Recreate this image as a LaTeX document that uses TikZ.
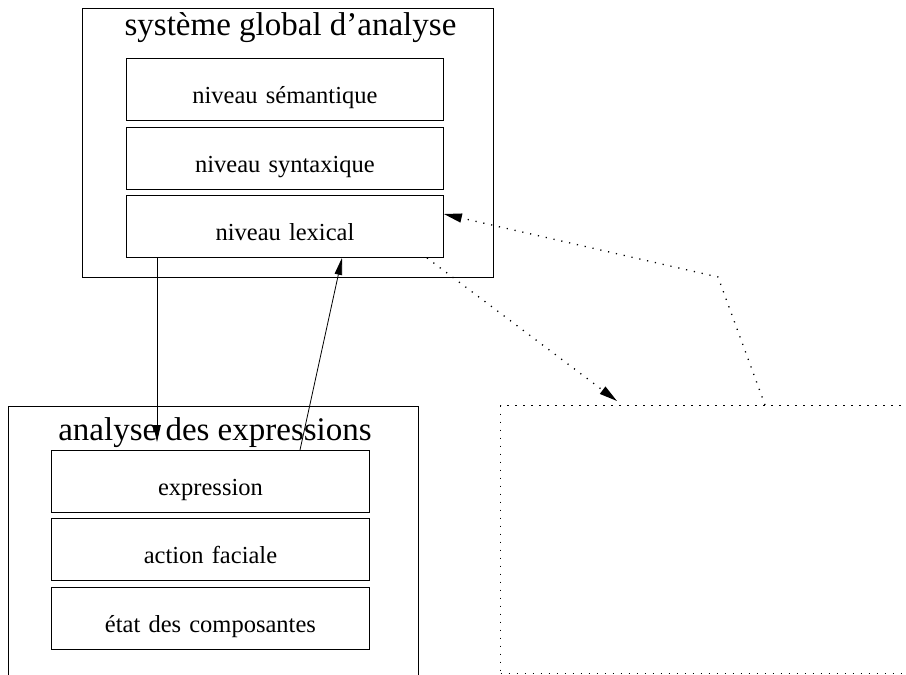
\documentclass[tikz,border=0pt]{standalone}
\usepackage{fontspec}
\setmainfont{Liberation Serif}
\usetikzlibrary{arrows.meta}
\tikzset{
  frame/.style={draw, line width=0.9pt, inner sep=0pt, anchor=north west},
  level/.style={draw, line width=0.9pt, inner sep=0pt, anchor=north west,
    text width=317pt, align=center, text height=45pt, text depth=17pt,
    font=\fontsize{24.5}{26}\selectfont},
  heading/.style={anchor=base, inner sep=0pt, font=\fontsize{33}{36}\selectfont},
  flow/.style={line width=0.8pt, -{Triangle[length=17pt,width=7.5pt]}},
  dotflow/.style={line width=1.3pt, dash pattern=on 1.2pt off 6.8pt,
    -{Triangle[length=18pt,width=9pt]}},
  dotframe/.style={draw, line width=1.3pt, dash pattern=on 1.2pt off 6.8pt,
    inner sep=0pt, anchor=north west}
}
\begin{document}
\begin{tikzpicture}[x=1pt, y=-1pt]
\useasboundingbox (0,0) rectangle (906,675);
\clip (0,0) rectangle (906,675);

% upper block: global analysis system
\node[frame, minimum width=411pt, minimum height=269pt] (sys) at (82,8) {};
\node[heading] (systitle) at (290.5,35) {système global d’analyse};
\node[level] (sem) at (126,58) {niveau sémantique};
\node[level] (syn) at (126,127) {niveau syntaxique};
\node[level] (lex) at (126,195) {niveau lexical};

% lower left block: expression analysis
\node[frame, minimum width=410pt, minimum height=300pt] (expr) at (8,406) {};
\node[heading] (exprtitle) at (215,440) {analyse des expressions};
\node[level, text width=318pt] (exp) at (51,450) {expression};
\node[level, text width=318pt] (act) at (51,518) {action faciale};
\node[level, text width=318pt] (etat) at (51,587) {état des composantes};

% lower right dotted block
\node[dotframe, minimum width=430pt, minimum height=268pt] (ext) at (500,405) {};

% connectors
\coordinate (downend) at (157,442);
\draw[flow] (lex.south west -| downend) -- (downend);
\draw[flow] (exp.north -| 300,0) -- (lex.south -| 342,0);
\coordinate (outtip) at (617,401);
\draw[dotflow] (lex.south -| 427,0) -- (outtip);
\coordinate (bend) at (718,277);
\draw[dotflow] (ext.north -| 765,0) -- (bend) -- (lex.east |- 0,214);
\end{tikzpicture}
\end{document}
